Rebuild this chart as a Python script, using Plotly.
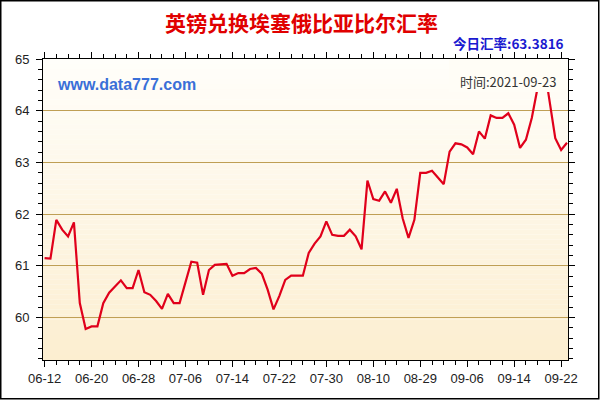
import plotly.graph_objects as go

# ---- data ----
rates = [61.15, 61.14, 61.89, 61.70, 61.57, 61.84, 60.28, 59.78, 59.83, 59.83,
         60.28, 60.48, 60.60, 60.72, 60.57, 60.57, 60.92, 60.49, 60.44, 60.32,
         60.17, 60.46, 60.28, 60.28, 60.68, 61.08, 61.06, 60.44, 60.92, 61.02,
         61.03, 61.04, 60.81, 60.86, 60.86, 60.94, 60.96, 60.85, 60.54, 60.16,
         60.42, 60.73, 60.81, 60.81, 60.81, 61.25, 61.43, 61.57, 61.86, 61.60,
         61.58, 61.58, 61.70, 61.57, 61.32, 62.65, 62.29, 62.26, 62.44, 62.22,
         62.49, 61.92, 61.54, 61.89, 62.80, 62.80, 62.84, 62.71, 62.58, 63.21,
         63.37, 63.35, 63.29, 63.16, 63.60, 63.46, 63.91, 63.86, 63.86, 63.95,
         63.73, 63.28, 63.44, 63.86, 64.45, 64.95, 64.25, 63.47, 63.24, 63.3816]
tick_labels = ["06-12", "06-20", "06-28", "07-06", "07-14", "07-22",
               "07-30", "08-10", "08-29", "09-06", "09-14", "09-22"]
tick_step = 8
y_ticks = [60, 61, 62, 63, 64, 65]

title_text = "英镑兑换埃塞俄比亚比尔汇率"
today_text = "今日汇率:63.3816"
time_text = "时间:2021-09-23"
site_text = "www.data777.com"

idx = list(range(len(rates)))
tick_pos = [i * tick_step for i in range(len(tick_labels))]

W, H = 600, 400
ML, MR, MT, MB = 43, 32, 59, 40
PW, PH = W - ML - MR, H - MT - MB


def px_x(px):
    return (px - ML) / PW


def px_y(py):
    return (H - MB - py) / PH


fig = go.Figure()
fig.add_trace(go.Scatter(x=idx, y=rates, mode="lines",
                         line=dict(color="#e0001b", width=2.2),
                         hoverinfo="skip", showlegend=False))

shapes = []
# gradient background of plot area
N = 60
top_c = (255, 254, 250)
bot_c = (252, 238, 208)
for k in range(N):
    t = (k + 0.5) / N
    c = tuple(round(top_c[j] + (bot_c[j] - top_c[j]) * t) for j in range(3))
    shapes.append(dict(type="rect", xref="paper", yref="paper",
                       x0=0, x1=1, y0=1 - (k + 1) / N, y1=1 - k / N,
                       fillcolor="rgb(%d,%d,%d)" % c, line=dict(width=0),
                       layer="below"))
# backdrop behind the time label (hides the line, as in the original)
shapes.append(dict(type="rect", xref="paper", yref="paper",
                   x0=px_x(449), x1=px_x(561), y0=px_y(92), y1=px_y(60),
                   fillcolor="rgb(255,253,246)", line=dict(width=0), layer="above"))
# outer frame of the picture
shapes.append(dict(type="rect", xref="paper", yref="paper",
                   x0=px_x(0.75), x1=px_x(W - 1.25),
                   y0=px_y(H - 1.25), y1=px_y(0.75),
                   line=dict(color="#000000", width=1.5), fillcolor="rgba(0,0,0,0)",
                   layer="above"))

fig.update_layout(
    width=W, height=H,
    margin=dict(l=ML, r=MR, t=MT, b=MB, pad=0),
    paper_bgcolor="#ffffff",
    plot_bgcolor="rgba(0,0,0,0)",
    shapes=shapes,
    showlegend=False,
    font=dict(family="Liberation Sans, Arial, sans-serif", color="#333333"),
    xaxis=dict(range=[-0.27, 89.17], tickmode="array", tickvals=tick_pos,
               ticktext=tick_labels, showgrid=False, zeroline=False,
               showline=True, linecolor="#000000", linewidth=1,
               mirror="ticks", ticks="outside", ticklen=6, tickcolor="#000000",
               tickfont=dict(size=13, color="#222222"),
               minor=dict(tickmode="linear", tick0=0, dtick=2, ticks="outside",
                          ticklen=4, tickcolor="#000000", showgrid=False)),
    yaxis=dict(range=[59.18, 65.0], tickmode="array", tickvals=y_ticks,
               showgrid=True, gridcolor="#bf9f55", gridwidth=1, zeroline=False,
               showline=True, linecolor="#000000", linewidth=1,
               mirror="ticks", ticks="outside", ticklen=6, tickcolor="#000000",
               ticklabelstandoff=4,
               tickfont=dict(size=13, color="#222222"),
               minor=dict(tickmode="linear", tick0=60, dtick=0.2, ticks="outside",
                          ticklen=4, tickcolor="#000000", showgrid=False)),
    annotations=[
        dict(text="<b>" + title_text + "</b>", xref="paper", yref="paper",
             x=px_x(301), y=px_y(22), xanchor="center", yanchor="middle",
             showarrow=False,
             font=dict(family="Noto Sans CJK SC", size=21, color="#e00000")),
        dict(text="<b>" + today_text + "</b>", xref="paper", yref="paper",
             x=px_x(566), y=px_y(43), xanchor="right", yanchor="middle",
             showarrow=False,
             font=dict(family="Noto Sans CJK SC", size=13.5, color="#1a1ad0")),
        dict(text="<b>" + site_text + "</b>", xref="paper", yref="paper",
             x=px_x(55), y=px_y(84), xanchor="left", yanchor="middle",
             showarrow=False,
             font=dict(family="Liberation Sans, Arial", size=16, color="#3a6fd8")),
        dict(text=time_text, xref="paper", yref="paper",
             x=px_x(558), y=px_y(81), xanchor="right", yanchor="middle",
             showarrow=False,
             font=dict(family="Noto Sans CJK SC", size=13, color="#333333")),
    ],
)

fig.write_html("out.html",
               config={"displayModeBar": False},
               post_script="document.body.style.margin='0';"
                           "document.body.style.padding='0';")
